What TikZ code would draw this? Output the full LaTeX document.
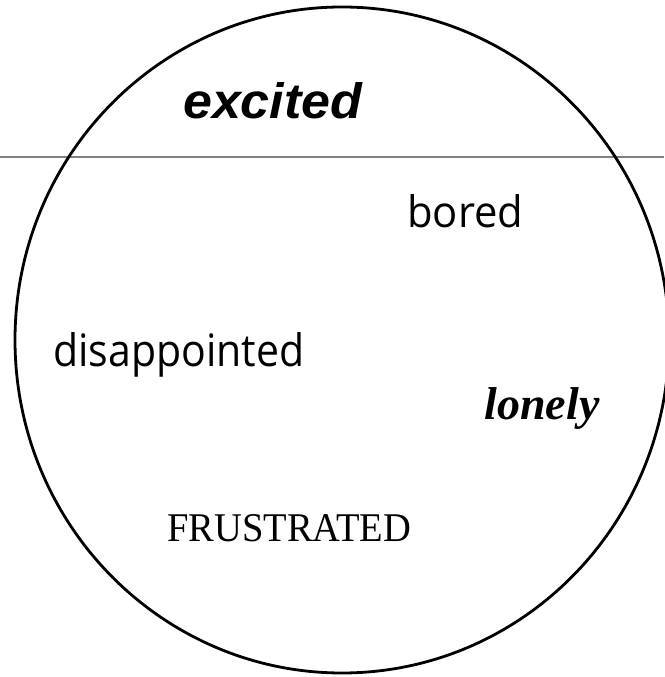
\documentclass[tikz,border=0pt]{standalone}
\usepackage{fontspec}
\usetikzlibrary{shapes.geometric}
\setmainfont{Liberation Sans}
\newfontfamily\boredfont{Open Sans}
\newfontfamily\lonelyfont{Liberation Serif}
\newfontfamily\frusfont{Liberation Serif}
\begin{document}
\begin{tikzpicture}[x=1pt,y=1pt,
  word/.style={inner sep=0pt, anchor=base west}]
\useasboundingbox (0,0) rectangle (664,677);
\fill[white] (0,0) rectangle (664,677);
\coordinate (L) at (0,520);
\coordinate (R) at (664,520);
\draw[gray, line width=1.6pt] (L) -- (R);
\node[draw=black, line width=2.8pt, ellipse, minimum width=654pt, minimum height=666pt, inner sep=0pt] (ring) at (342,337) {};
\node[word] (excited) at (183,558) {\resizebox{179pt}{36pt}{\itshape\bfseries excited}};
\node[word] (bored) at (407,449) {\resizebox{116pt}{33pt}{\boredfont bored}};
\node[word] (disap) at (53,310) {\resizebox{251pt}{34pt}{\boredfont disappointed}};
\node[word, anchor=center] (lonely) at (542,268) {\resizebox{115pt}{!}{\lonelyfont\bfseries\itshape lonely}};
\node[word] (frus) at (167,135) {\resizebox{244pt}{27pt}{\frusfont FRUSTRATED}};
\end{tikzpicture}
\end{document}
